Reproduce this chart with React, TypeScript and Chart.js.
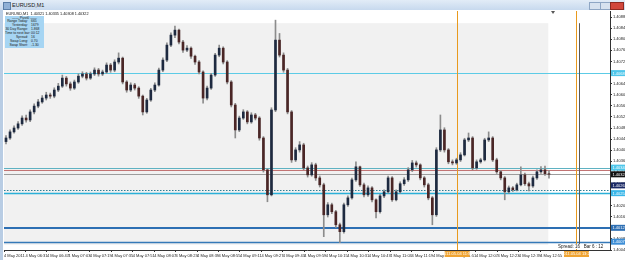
import React, { useEffect, useRef } from "react";
import { Chart, registerables } from "chart.js";

Chart.register(...registerables);

const windowTitle = "EURUSD,M1";
const quoteLine = "EURUSD,M1  1.40321 1.40335 1.40308 1.40322";

// Candles (each bar ~3 minutes of the M1 chart)
const opens = [
  1.40440,1.40453,1.40475,1.40489,1.40504,1.40525,1.40518,1.40547,1.40568,1.40583,
  1.40597,1.40608,1.40604,1.40626,1.40640,1.40669,1.40648,1.40633,1.40655,1.40676,
  1.40684,1.40669,1.40684,1.40698,1.40684,1.40691,1.40716,1.40698,1.40727,1.40741,
  1.40655,1.40626,1.40644,1.40633,1.40604,1.40547,1.40590,1.40626,1.40644,1.40698,
  1.40734,1.40788,1.40824,1.40842,1.40799,1.40770,1.40777,1.40748,1.40727,1.40691,
  1.40597,1.40633,1.40680,1.40752,1.40777,1.40727,1.40655,1.40572,1.40482,1.40525,
  1.40547,1.40511,1.40536,1.40525,1.40453,1.40338,1.40248,1.40554,1.40806,1.40752,
  1.40698,1.40547,1.40374,1.40410,1.40428,1.40345,1.40320,1.40356,1.40309,1.40284,
  1.40176,1.40212,1.40187,1.40140,1.40115,1.40212,1.40237,1.40302,1.40349,1.40284,
  1.40248,1.40273,1.40230,1.40187,1.40244,1.40259,1.40309,1.40230,1.40259,1.40288,
  1.40302,1.40338,1.40363,1.40356,1.40309,1.40284,1.40237,1.40176,1.40410,1.40482,
  1.40410,1.40367,1.40363,1.40374,1.40392,1.40446,1.40453,1.40345,1.40367,1.40374,
  1.40446,1.40453,1.40374,1.40331,1.40309,1.40259,1.40273,1.40266,1.40284,1.40320,
  1.40288,1.40280,1.40309,1.40331,1.40338,1.40324,
];
const highs = [
  1.40462,1.40482,1.40497,1.40512,1.40533,1.40536,1.40555,1.40576,1.40592,1.40606,
  1.40618,1.40615,1.40634,1.40650,1.40680,1.40675,1.40655,1.40662,1.40684,1.40692,
  1.40690,1.40691,1.40706,1.40704,1.40698,1.40724,1.40722,1.40735,1.40760,1.40745,
  1.40660,1.40652,1.40650,1.40638,1.40608,1.40596,1.40632,1.40652,1.40705,1.40742,
  1.40796,1.40832,1.40857,1.40846,1.40805,1.40786,1.40782,1.40752,1.40732,1.40695,
  1.40640,1.40686,1.40758,1.40788,1.40782,1.40732,1.40660,1.40578,1.40532,1.40555,
  1.40552,1.40544,1.40542,1.40530,1.40458,1.40342,1.40562,1.40878,1.40830,1.40760,
  1.40704,1.40552,1.40418,1.40440,1.40434,1.40352,1.40364,1.40362,1.40316,1.40290,
  1.40220,1.40218,1.40192,1.40146,1.40218,1.40244,1.40308,1.40367,1.40352,1.40290,
  1.40280,1.40278,1.40234,1.40250,1.40266,1.40316,1.40314,1.40266,1.40295,1.40310,
  1.40346,1.40372,1.40370,1.40360,1.40314,1.40290,1.40242,1.40418,1.40536,1.40490,
  1.40415,1.40374,1.40380,1.40400,1.40452,1.40471,1.40458,1.40374,1.40380,1.40452,
  1.40475,1.40458,1.40380,1.40336,1.40314,1.40280,1.40278,1.40290,1.40349,1.40326,
  1.40294,1.40316,1.40338,1.40350,1.40352,1.40335,
];
const lows = [
  1.40432,1.40448,1.40470,1.40484,1.40498,1.40510,1.40512,1.40540,1.40562,1.40578,
  1.40590,1.40596,1.40598,1.40620,1.40635,1.40640,1.40625,1.40628,1.40650,1.40670,
  1.40662,1.40664,1.40678,1.40676,1.40678,1.40686,1.40690,1.40692,1.40720,1.40648,
  1.40618,1.40620,1.40626,1.40596,1.40536,1.40542,1.40585,1.40620,1.40640,1.40692,
  1.40728,1.40782,1.40815,1.40792,1.40762,1.40764,1.40740,1.40718,1.40684,1.40579,
  1.40590,1.40628,1.40675,1.40746,1.40720,1.40648,1.40565,1.40453,1.40476,1.40520,
  1.40504,1.40506,1.40518,1.40445,1.40330,1.40223,1.40244,1.40548,1.40745,1.40690,
  1.40540,1.40365,1.40368,1.40402,1.40338,1.40312,1.40315,1.40300,1.40276,1.40097,
  1.40168,1.40180,1.40130,1.40075,1.40110,1.40206,1.40232,1.40296,1.40278,1.40240,
  1.40242,1.40222,1.40165,1.40182,1.40238,1.40254,1.40224,1.40226,1.40254,1.40282,
  1.40296,1.40332,1.40348,1.40302,1.40276,1.40230,1.40140,1.40170,1.40404,1.40402,
  1.40360,1.40356,1.40358,1.40368,1.40388,1.40440,1.40338,1.40340,1.40362,1.40370,
  1.40440,1.40368,1.40325,1.40302,1.40230,1.40254,1.40260,1.40262,1.40280,1.40282,
  1.40262,1.40275,1.40304,1.40325,1.40318,1.40308,
];
const closes = [
  1.40453,1.40475,1.40489,1.40504,1.40525,1.40518,1.40547,1.40568,1.40583,1.40597,
  1.40608,1.40604,1.40626,1.40640,1.40669,1.40648,1.40633,1.40655,1.40676,1.40684,
  1.40669,1.40684,1.40698,1.40684,1.40691,1.40716,1.40698,1.40727,1.40741,1.40655,
  1.40626,1.40644,1.40633,1.40604,1.40547,1.40590,1.40626,1.40644,1.40698,1.40734,
  1.40788,1.40824,1.40842,1.40799,1.40770,1.40777,1.40748,1.40727,1.40691,1.40597,
  1.40633,1.40680,1.40752,1.40777,1.40727,1.40655,1.40572,1.40482,1.40525,1.40547,
  1.40511,1.40536,1.40525,1.40453,1.40338,1.40248,1.40554,1.40806,1.40752,1.40698,
  1.40547,1.40374,1.40410,1.40428,1.40345,1.40320,1.40356,1.40309,1.40284,1.40176,
  1.40212,1.40187,1.40140,1.40115,1.40212,1.40237,1.40302,1.40349,1.40284,1.40248,
  1.40273,1.40230,1.40187,1.40244,1.40259,1.40309,1.40230,1.40259,1.40288,1.40302,
  1.40338,1.40363,1.40356,1.40309,1.40284,1.40237,1.40176,1.40410,1.40482,1.40410,
  1.40367,1.40363,1.40374,1.40392,1.40446,1.40453,1.40345,1.40367,1.40374,1.40446,
  1.40453,1.40374,1.40331,1.40309,1.40259,1.40273,1.40266,1.40284,1.40320,1.40288,
  1.40280,1.40309,1.40331,1.40338,1.40324,1.40322,
];

// time axis in minutes of the day
const firstBarMinute = 376.5;
const barMinutes = 3;
const axisStartMinute = 375;
const axisEndMinute = 827;

const priceMax = 1.40911;
const priceMin = 1.40049;
const priceTicks = [
  1.40889, 1.40849, 1.40809, 1.40769, 1.40729, 1.40689, 1.40649, 1.40609,
  1.40569, 1.40529, 1.40489, 1.40449, 1.40409, 1.40369, 1.40329, 1.40289,
  1.40249, 1.40209, 1.40169, 1.40129, 1.40089, 1.40049,
];
const timeTickMinutes = [
  375, 391, 407, 423, 439, 455, 471, 487, 503, 519, 535, 551, 567,
  583, 599, 615, 631, 647, 663, 679, 695, 711, 727, 743, 759, 775,
];
const timeTickLabels = [
  "4 May 2011", "4 May 06:31", "4 May 06:47", "4 May 07:03", "4 May 07:19",
  "4 May 07:35", "4 May 07:51", "4 May 08:07", "4 May 08:23", "4 May 08:39",
  "4 May 08:55", "4 May 09:11", "4 May 09:27", "4 May 09:43", "4 May 09:59",
  "4 May 10:15", "4 May 10:31", "4 May 10:47", "4 May 11:03", "4 May 11:19",
  "4 May 11:35", "4 May 11:51", "4 May 12:07", "4 May 12:23", "4 May 12:39",
  "4 May 12:55",
];

const hLines = [
  { price: 1.40687, color: "#5ccbe6", width: 1, dash: [] as number[], labelBg: "#4ec6ea", labelFg: "#ffffff", shift: 0 },
  { price: 1.40346, color: "#5fb2c2", width: 1, dash: [] as number[], labelBg: "#4ec6ea", labelFg: "#ffffff", shift: 0 },
  { price: 1.40338, color: "#c27474", width: 1, dash: [] as number[], labelBg: "", labelFg: "", shift: 0 },
  { price: 1.40322, color: "#9c9c9c", width: 1, dash: [] as number[], labelBg: "#111111", labelFg: "#ffffff", shift: 0 },
  { price: 1.40264, color: "#2d7f96", width: 1, dash: [1.5, 1.5], labelBg: "#1b2a66", labelFg: "#ffffff", shift: -5 },
  { price: 1.40254, color: "#2bb0d8", width: 1.5, dash: [] as number[], labelBg: "#39b6e8", labelFg: "#ffffff", shift: 0 },
  { price: 1.40129, color: "#2d6fb3", width: 2, dash: [] as number[], labelBg: "#2d6fb3", labelFg: "#ffffff", shift: 0 },
  { price: 1.40079, color: "#3579b8", width: 1.5, dash: [] as number[], labelBg: "#3d8ed6", labelFg: "#ffffff", shift: 0 },
];

const vLines = [
  { minute: 713, color: "#e89a1e", full: true, label: "2011.05.04 11:53" },
  { minute: 802, color: "#e89a1e", full: true, label: "2011.05.04 13:22" },
  { minute: 804, color: "#5a5a5a", full: false, label: "" },
];

const shadeBox = { fromMinute: 375, toMinute: 781, top: 1.40867, bottom: 1.40068 };
const vLineTop = 1.40867;
const vLineBottom = 1.40068;

const infoTitle = "Pivot0";
const infoRows = [
  ["Range Today:", "665"],
  ["Yesterday:", "1679"],
  ["30 Day Range:", "1.868"],
  ["Time to next bar:", "00:12"],
  ["Spread:", "16"],
  ["Swap Long:", "0.70"],
  ["Swap Short:", "-1.30"],
];
const statusSpread = "Spread: 16";
const statusBar = "Bar 6 : 12";

const bullColor = "#1e2a40";
const bearColor = "#4a2626";
const wickColor = "#8c8c8c";

const mt4Plugin = {
  id: "mt4overlay",
  beforeDatasetsDraw(chart: any) {
    const { ctx, chartArea: a, scales } = chart;
    const x = scales.x;
    const y = scales.y;
    ctx.save();
    ctx.beginPath();
    ctx.rect(a.left, a.top, a.right - a.left, a.bottom - a.top);
    ctx.clip();
    const sx0 = x.getPixelForValue(shadeBox.fromMinute);
    const sx1 = x.getPixelForValue(shadeBox.toMinute);
    const sy0 = y.getPixelForValue(shadeBox.top);
    const sy1 = y.getPixelForValue(shadeBox.bottom);
    ctx.fillStyle = "#f1f1f1";
    ctx.fillRect(sx0, sy0, sx1 - sx0, sy1 - sy0);
    hLines.forEach((l) => {
      const py = Math.round(y.getPixelForValue(l.price)) + (l.width % 2 ? 0.5 : 0);
      ctx.beginPath();
      ctx.setLineDash(l.dash);
      ctx.strokeStyle = l.color;
      ctx.lineWidth = l.width;
      ctx.moveTo(a.left, py);
      ctx.lineTo(a.right, py);
      ctx.stroke();
    });
    ctx.setLineDash([]);
    vLines.forEach((v) => {
      const px = Math.round(x.getPixelForValue(v.minute)) + 0.5;
      ctx.beginPath();
      ctx.strokeStyle = v.color;
      ctx.lineWidth = 1;
      const t = v.full ? a.top : y.getPixelForValue(vLineTop);
      const b = v.full ? a.bottom : y.getPixelForValue(vLineBottom);
      ctx.moveTo(px, t);
      ctx.lineTo(px, b);
      ctx.stroke();
    });
    ctx.restore();
  },
  afterDraw(chart: any) {
    const { ctx, chartArea: a, scales } = chart;
    const x = scales.x;
    const y = scales.y;
    ctx.save();
    ctx.font = "4px 'Liberation Sans'";
    ctx.textBaseline = "middle";
    hLines.forEach((l) => {
      if (!l.labelBg) return;
      const py = y.getPixelForValue(l.price) + l.shift;
      ctx.fillStyle = l.labelBg;
      ctx.fillRect(a.right + 1, py - 3, 14, 6);
      ctx.fillStyle = l.labelFg;
      ctx.textAlign = "left";
      ctx.fillText(l.price.toFixed(5), a.right + 2.5, py + 0.3);
    });
    vLines.forEach((v) => {
      if (!v.label) return;
      const px = x.getPixelForValue(v.minute);
      ctx.fillStyle = "#f0a432";
      ctx.fillRect(px - 12.5, a.bottom + 1, 25, 6);
      ctx.fillStyle = "#ffffff";
      ctx.textAlign = "center";
      ctx.fillText(v.label, px, a.bottom + 4.2);
    });
    const mx = x.getPixelForValue(firstBarMinute + closes.length * barMinutes);
    ctx.fillStyle = "#555";
    ctx.beginPath();
    ctx.moveTo(mx - 2, a.top);
    ctx.lineTo(mx + 2, a.top);
    ctx.lineTo(mx, a.top + 3);
    ctx.closePath();
    ctx.fill();
    ctx.restore();
  },
};

export default function App() {
  const ref = useRef<HTMLCanvasElement>(null);
  useEffect(() => {
    const canvas = ref.current!;
    const xs = closes.map((_, i) => firstBarMinute + i * barMinutes);
    const bodyColors = closes.map((c, i) => (c >= opens[i] ? bullColor : bearColor));
    const chart = new Chart(canvas, {
      type: "bar",
      data: {
        datasets: [
          {
            label: "body",
            data: xs.map((xv, i) => ({ x: xv, y: [opens[i], closes[i]] })) as any,
            backgroundColor: bodyColors,
            borderWidth: 0,
            barThickness: 2,
            grouped: false,
          } as any,
          {
            label: "wick",
            data: xs.map((xv, i) => ({ x: xv, y: [lows[i], highs[i]] })) as any,
            backgroundColor: wickColor,
            borderWidth: 0,
            barThickness: 1,
            grouped: false,
          } as any,
        ],
      },
      options: {
        responsive: false,
        animation: false,
        events: [],
        layout: { padding: { left: 1, top: 1, right: 0, bottom: 0 } },
        plugins: { legend: { display: false }, tooltip: { enabled: false } },
        scales: {
          x: {
            type: "linear",
            min: axisStartMinute,
            max: axisEndMinute,
            offset: false,
            bounds: "data",
            afterBuildTicks: (s: any) => {
              s.ticks = timeTickMinutes.map((v) => ({ value: v }));
            },
            afterFit: (s: any) => {
              s.height = 10;
              s.paddingLeft = 0;
              s.paddingRight = 0;
            },
            ticks: {
              autoSkip: false,
              maxRotation: 0,
              minRotation: 0,
              align: "start",
              padding: 1,
              color: "#222",
              font: { size: 4, family: "'Liberation Sans'" },
              callback: (_v: any, i: number) => timeTickLabels[i],
            },
            grid: { drawOnChartArea: false, offset: false, tickLength: 2, color: "#333" },
            border: { display: true, color: "#333" },
          } as any,
          y: {
            position: "right",
            min: priceMin,
            max: priceMax,
            afterBuildTicks: (s: any) => {
              s.ticks = priceTicks.map((v) => ({ value: v }));
            },
            afterFit: (s: any) => {
              s.width = 15;
              s.paddingTop = 0;
              s.paddingBottom = 0;
            },
            ticks: {
              padding: 1,
              color: "#222",
              font: { size: 4, family: "'Liberation Sans'" },
              callback: (v: any) => Number(v).toFixed(5),
            },
            grid: { drawOnChartArea: false, tickLength: 2, color: "#333" },
            border: { display: true, color: "#333" },
          } as any,
        },
      },
      plugins: [mt4Plugin],
    });
    return () => chart.destroy();
  }, []);

  const font = "'Liberation Sans', Arial, sans-serif";
  return (
    <div
      style={{
        position: "fixed",
        left: 0,
        top: 0,
        width: 625,
        height: 260,
        overflow: "hidden",
        background: "#b9cde4",
        fontFamily: font,
      }}
    >
      <div
        style={{
          position: "absolute",
          left: 0,
          top: 0,
          width: 625,
          height: 10,
          background: "linear-gradient(#e2ecf7, #c7d9ee)",
        }}
      >
        <div style={{ position: "absolute", left: 3, top: 2, width: 6, height: 6, background: "#8fb0d6", border: "0.5px solid #5a7ea8" }} />
        <div style={{ position: "absolute", left: 12, top: 1.5, fontSize: 5.5, lineHeight: "7px", color: "#1a1a1a" }}>{windowTitle}</div>
        <div style={{ position: "absolute", left: 589, top: 2, width: 10, height: 6, background: "#d7e2ef", border: "0.5px solid #8ea6c4" }} />
        <div style={{ position: "absolute", left: 600, top: 2, width: 9, height: 6, background: "#d7e2ef", border: "0.5px solid #8ea6c4" }} />
        <div style={{ position: "absolute", left: 610, top: 2, width: 12, height: 6, background: "#d2473c", border: "0.5px solid #8e2a22" }} />
      </div>
      <div style={{ position: "absolute", left: 3, top: 10, width: 622, height: 250, background: "#ffffff" }}>
        <canvas ref={ref} width={622} height={250} style={{ display: "block", width: 622, height: 250 }} />
      </div>
      <div style={{ position: "absolute", left: 6, top: 11.5, fontSize: 3.8, lineHeight: "4px", color: "#111", whiteSpace: "pre" }}>
        {quoteLine}
      </div>
      <div
        style={{
          position: "absolute",
          left: 5,
          top: 16,
          width: 39,
          height: 32,
          background: "#a6d5f3",
          fontSize: 3.4,
          lineHeight: "3.9px",
          color: "#1a1a1a",
        }}
      >
        <div style={{ textAlign: "center", marginTop: 0.5 }}>
          {"—— "}
          {infoTitle}
          {" ——"}
        </div>
        {infoRows.map((r, i) => (
          <div key={i} style={{ display: "flex", whiteSpace: "nowrap" }}>
            <span style={{ width: 23, textAlign: "right" }}>{r[0]}</span>
            <span style={{ marginLeft: 3 }}>{r[1]}</span>
          </div>
        ))}
      </div>
      <div style={{ position: "absolute", left: 558, top: 244, fontSize: 4.5, lineHeight: "5px", color: "#222", whiteSpace: "pre", background: "#fff" }}>
        {statusSpread}
        {"   "}
        {statusBar}
      </div>
    </div>
  );
}
